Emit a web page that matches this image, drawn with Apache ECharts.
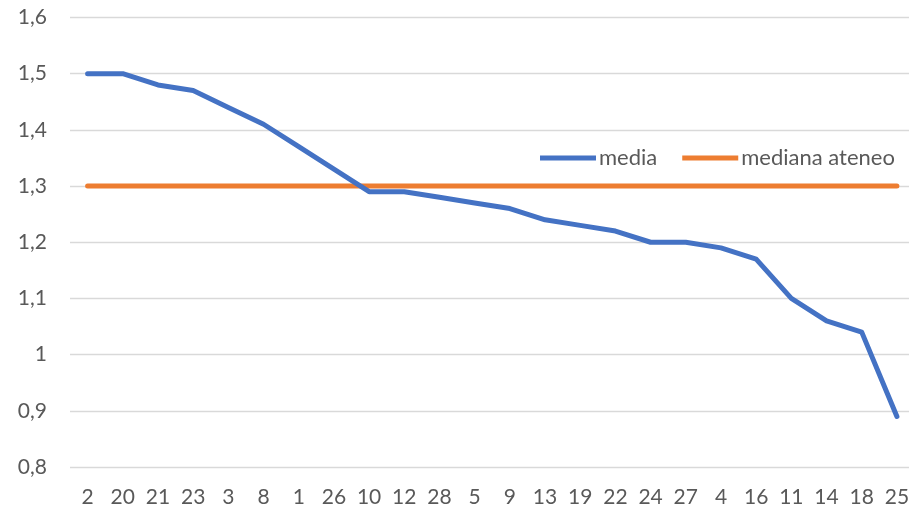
<!DOCTYPE html>
<html><head><meta charset="utf-8">
<script src="https://cdn.jsdelivr.net/npm/echarts@6/dist/echarts.min.js"></script>
<style>html,body{margin:0;padding:0;background:#fff;overflow:hidden}#c{width:925px;height:508px}</style>
</head><body><div id="c"></div>
<script>
const categories = ['2','20','21','23','3','8','1','26','10','12','28','5','9','13','19','22','24','27','4','16','11','14','18','25'];
const media = [1.5,1.5,1.48,1.47,1.44,1.41,1.37,1.33,1.29,1.29,1.28,1.27,1.26,1.24,1.23,1.22,1.2,1.2,1.19,1.17,1.1,1.06,1.04,0.89];
const medianaAteneo = [1.3,1.3,1.3,1.3,1.3,1.3,1.3,1.3,1.3,1.3,1.3,1.3,1.3,1.3,1.3,1.3,1.3,1.3,1.3,1.3,1.3,1.3,1.3,1.3];
const yTicks = {min:0.8, max:1.6, interval:0.1};
const FONT = 'Lato, "Open Sans", sans-serif';
const chart = echarts.init(document.getElementById('c'), null, {renderer:'canvas'});
chart.setOption({
  animation:false,
  backgroundColor:'#fff',
  grid:{left:70, right:10.5, top:17.5, bottom:40.5, containLabel:false},
  legend:{
    left:535, top:142, icon:'rect', itemWidth:56, itemHeight:5, itemGap:25,
    textStyle:{color:'#595959', fontSize:22, fontFamily:FONT, padding:[0,0,0,-2]},
    data:['media','mediana ateneo']
  },
  xAxis:{
    type:'category', data:categories, boundaryGap:true,
    axisLine:{show:false}, axisTick:{show:false},
    axisLabel:{color:'#595959', fontSize:21, fontFamily:FONT, margin:20, interval:0}
  },
  yAxis:{
    type:'value', min:yTicks.min, max:yTicks.max, interval:yTicks.interval,
    axisLine:{show:false}, axisTick:{show:false},
    splitLine:{lineStyle:{color:'#d9d9d9', width:1.3}},
    axisLabel:{color:'#595959', fontSize:21, fontFamily:FONT, margin:23,
      formatter:v=>String(Math.round(v*10)/10).replace('.',',')}
  },
  series:[
    {name:'media', type:'line', data:media, showSymbol:false, symbol:'none',
     lineStyle:{color:'#4472C4', width:5, cap:'round', join:'round'}, itemStyle:{color:'#4472C4'}, z:3},
    {name:'mediana ateneo', type:'line', data:medianaAteneo, showSymbol:false, symbol:'none',
     lineStyle:{color:'#ED7D31', width:5, cap:'round'}, itemStyle:{color:'#ED7D31'}, z:2}
  ]
});
</script></body></html>
